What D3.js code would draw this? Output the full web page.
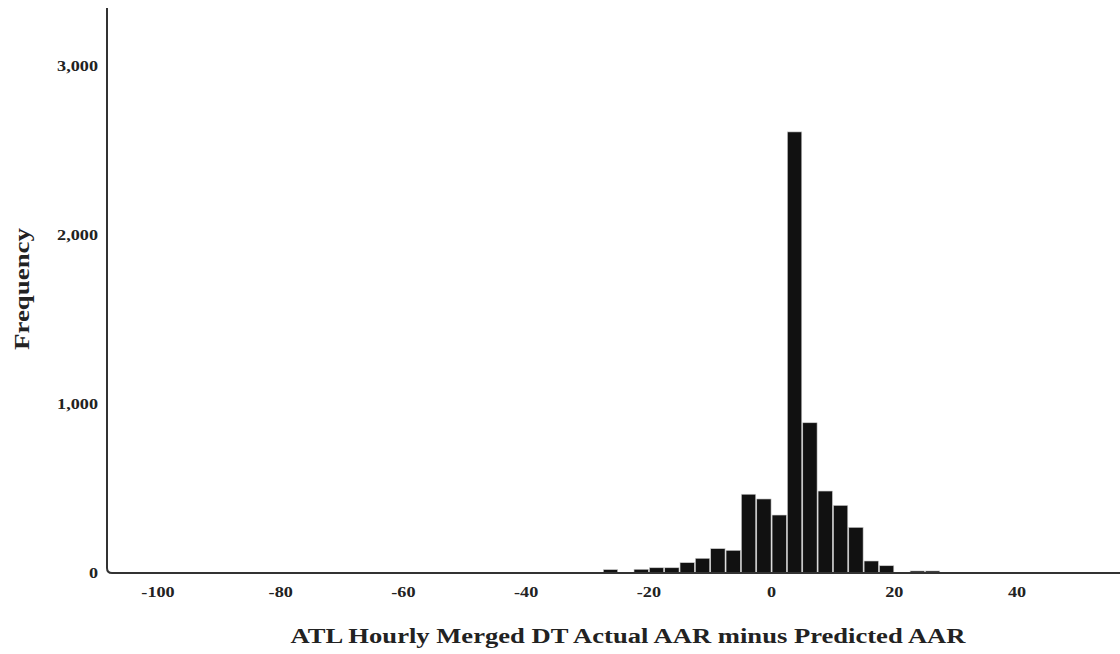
<!DOCTYPE html>
<html>
<head>
<meta charset="utf-8">
<script src="https://cdn.jsdelivr.net/npm/d3@7"></script>
<style>
  body { margin: 0; background: #fff; }
  text { font-family: "Liberation Serif", "Times New Roman", serif; font-weight: bold; fill: #222; }
</style>
</head>
<body>
<div id="chart"></div>
<script>
// Histogram bins (left edge of each 2.5 wide bin) and their frequencies
const binStarts = [-27.5, -25, -22.5, -20, -17.5, -15, -12.5, -10, -7.5, -5, -2.5, 0,
                   2.5, 5, 7.5, 10, 12.5, 15, 17.5, 20, 22.5, 25];
const counts = [20, 0, 22, 31, 31, 61, 87, 144, 134, 466, 438, 343,
                2610, 889, 485, 400, 270, 71, 43, 0, 12, 12];
const binWidth = 2.5;
const xTicks = [-100, -80, -60, -40, -20, 0, 20, 40];
const yTicks = [0, 1000, 2000, 3000];

const W = 1120, H = 654;
const axisLeftX = 107, axisTopY = 8, baseY = 573;

const svg = d3.select("#chart").append("svg")
    .attr("width", W)
    .attr("height", H);

const x = d3.scaleLinear()
    .domain([-100, 40])
    .range([158, 1017]);

const y = d3.scaleLinear()
    .domain([0, 3000])
    .range([baseY, baseY - 507]);

const data = binStarts.map((s, i) => ({ start: s, count: counts[i] }));

// bars
svg.append("g")
    .selectAll("rect")
    .data(data.filter(d => d.count > 0))
    .enter().append("rect")
    .attr("x", d => x(d.start) + 0.5)
    .attr("width", d => x(d.start + binWidth) - x(d.start) - 1)
    .attr("y", d => y(d.count))
    .attr("height", d => baseY - y(d.count))
    .attr("fill", "#111")
    .attr("stroke", "#ccc")
    .attr("stroke-width", 0.6);

// axis lines, with the rounded corner
svg.append("path")
    .attr("d", `M${axisLeftX},${axisTopY} V${baseY - 5} Q${axisLeftX},${baseY} ${axisLeftX + 5},${baseY} H${W}`)
    .attr("fill", "none")
    .attr("stroke", "#333")
    .attr("stroke-width", 2);

// y tick labels
svg.append("g")
    .selectAll("text")
    .data(yTicks)
    .enter().append("text")
    .attr("transform", d => `translate(98, ${y(d) + 5}) scale(1.3,1)`)
    .attr("text-anchor", "end")
    .style("font-size", "14px")
    .text(d => d3.format(",")(d));

// x tick labels
svg.append("g")
    .selectAll("text")
    .data(xTicks)
    .enter().append("text")
    .attr("transform", d => `translate(${x(d)}, 597) scale(1.3,1)`)
    .attr("text-anchor", "middle")
    .style("font-size", "14px")
    .text(d => d);

// x axis title
svg.append("text")
    .attr("x", 628)
    .attr("y", 643)
    .attr("text-anchor", "middle")
    .attr("textLength", 675)
    .attr("lengthAdjust", "spacingAndGlyphs")
    .style("font-size", "20px")
    .text("ATL Hourly Merged DT Actual AAR minus Predicted AAR");

// y axis title
svg.append("text")
    .attr("transform", "translate(29, 289) rotate(-90)")
    .attr("text-anchor", "middle")
    .attr("textLength", 122)
    .attr("lengthAdjust", "spacingAndGlyphs")
    .style("font-size", "20px")
    .text("Frequency");
</script>
</body>
</html>
